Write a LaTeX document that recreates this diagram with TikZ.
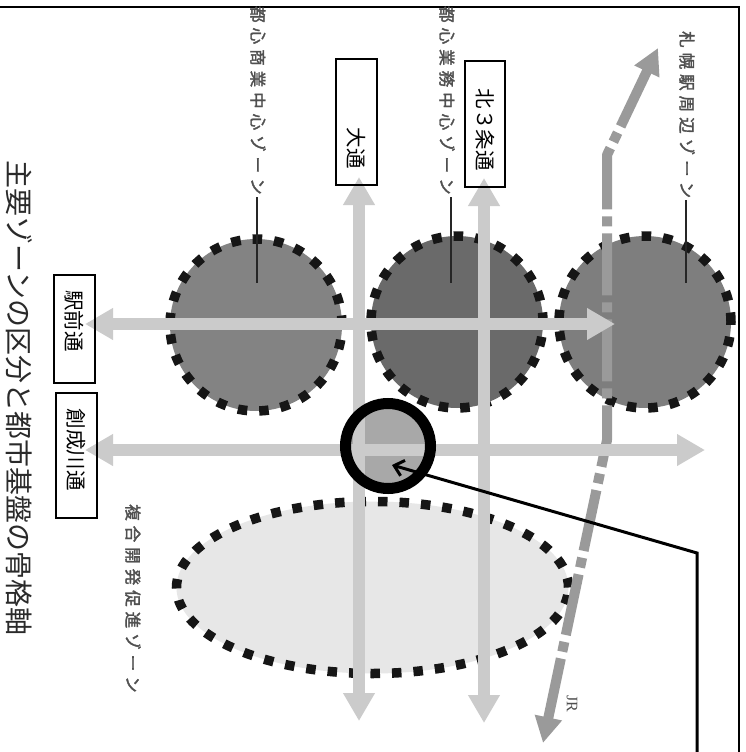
\documentclass[tikz,border=0pt]{standalone}
\usepackage{fontspec}
\setmainfont{Noto Sans CJK JP}
\newfontfamily\jrfont{Liberation Serif}
\newfontfamily\zonefont{Noto Sans CJK JP}[FakeBold=2]
\usetikzlibrary{arrows.meta,shapes.geometric}
\definecolor{roadc}{HTML}{CBCBCB}
\definecolor{jrc}{HTML}{9A9A9A}
\definecolor{zoneA}{HTML}{838383}
\definecolor{zoneB}{HTML}{6A6A6A}
\definecolor{zoneC}{HTML}{7E7E7E}
\definecolor{zoneD}{HTML}{E7E7E7}
\definecolor{dotc}{HTML}{161616}
\definecolor{hubc}{HTML}{A8A8A8}
\definecolor{labelc}{HTML}{505050}
\definecolor{titlec}{HTML}{2A2A2A}
\newcommand\zs{\hspace{5pt}}
\tikzset{
  zonedots/.style={draw=dotc, line width=9.5pt, dash pattern=on 9.5pt off 12pt},
  zonenode/.style={circle, inner sep=0pt, minimum size=172pt, zonedots},
  road/.style={draw=roadc, line width=12pt,
    {Triangle[width=30pt,length=28pt]}-{Triangle[width=30pt,length=28pt]}},
  jrline/.style={draw=jrc, line width=10pt, line join=round,
    dash pattern=on 62pt off 7pt on 10pt off 7pt,
    {Triangle[width=26pt,length=26pt]}-{Triangle[width=26pt,length=26pt]}},
  callout/.style={draw=black, line width=3pt, line join=miter,
    {Straight Barb[length=9pt,width=16pt]}-},
  ringnode/.style={circle, draw=black, line width=11pt, minimum size=85pt, inner sep=0pt},
  leader/.style={draw=black!85, line width=1.8pt},
  zonelabel/.style={rotate=-90, anchor=west, inner sep=0pt, text=labelc,
    font=\zonefont\fontsize{16.5pt}{16.5pt}\selectfont},
  roadlabel/.style={rotate=-90, inner sep=0pt,
    font=\fontsize{20.5pt}{20.5pt}\selectfont},
  labelbox/.style={draw=black, line width=1.3pt, inner sep=0pt, minimum width=41pt},
}
\begin{document}
\begin{tikzpicture}[x=1pt,y=-1pt]
\useasboundingbox (0,0) rectangle (746,752);
\clip (0,0) rectangle (746,752);
\fill[white] (0,0) rectangle (746,752);
% frame
\draw[line width=1.8pt] (-10,7) -- (739,7) -- (739,770);
% zones
\node[ellipse, zonedots, fill=zoneD, minimum width=392pt, minimum height=172pt, inner sep=0pt] (fukugo) at (372.5,587.5) {};
\node[zonenode, fill=zoneA] (shogyo) at (256,325) {};
\node[zonenode, fill=zoneB] (gyomu) at (457,322) {};
\node[zonenode, fill=zoneC] (eki) at (645,322) {};
% hub disk
\node[circle, fill=hubc, minimum size=78pt, inner sep=0pt] (hub) at (388,446) {};
% JR
\coordinate (jrS) at (543,743);
\coordinate (jrK) at (607,440);
\coordinate (jrB) at (607,155);
\coordinate (jrN) at (658,48);
\draw[jrline] (jrS) -- (jrK) -- (jrB) -- (jrN);
% roads
\coordinate (odoriN) at (359,177);
\coordinate (odoriS) at (359,721);
\coordinate (kita3N) at (484,178);
\coordinate (kita3S) at (484,723);
\coordinate (ekimaeW) at (85,324);
\coordinate (ekimaeE) at (615,324);
\coordinate (soseiW) at (85,450);
\coordinate (soseiE) at (705,450);
\draw[road] (odoriS) -- (odoriN);
\draw[road] (kita3S) -- (kita3N);
\draw[road] (ekimaeW) -- (ekimaeE);
\draw[road] (soseiW) -- (soseiE);
% ring and callout
\node[ringnode] (ring) at (388,446) {};
\coordinate (coA) at (392,465);
\coordinate (coB) at (697,553);
\coordinate (coC) at (697,770);
\draw[callout] (coA) -- (coB) -- (coC);
% leaders
\coordinate (ld1a) at (257,197); \coordinate (ld1b) at (257,283);
\coordinate (ld2a) at (451,197); \coordinate (ld2b) at (451,283);
\coordinate (ld3a) at (686,200); \coordinate (ld3b) at (686,283);
\draw[leader] (ld1a) -- (ld1b);
\draw[leader] (ld2a) -- (ld2b);
\draw[leader] (ld3a) -- (ld3b);
% zone labels
\node[zonelabel] (lshogyo) at (258,6) {都\zs 心\zs 商\zs 業\zs 中\zs 心\zs ゾ\zs ー\zs ン};
\node[zonelabel] (lgyomu) at (447,6) {都\zs 心\zs 業\zs 務\zs 中\zs 心\zs ゾ\zs ー\zs ン};
\node[zonelabel] (leki) at (687,31) {札\zs 幌\zs 駅\zs 周\zs 辺\zs ゾ\zs ー\zs ン};
\node[zonelabel] (lfukugo) at (133,504) {複\zs 合\zs 開\zs 発\zs 促\zs 進\zs ゾ\zs ー\zs ン};
\node[rotate=-90, inner sep=0pt, text=labelc, font=\jrfont\fontsize{16pt}{16pt}\selectfont] (jr) at (572,704) {JR};
% road label boxes
\node[labelbox, minimum height=126pt] (bodori) at (356.5,122) {};
\node[labelbox, minimum height=126pt, minimum width=40pt] (bkita3) at (485,124) {};
\node[labelbox, minimum height=108pt] (bekimae) at (74.5,329) {};
\node[labelbox, minimum height=125pt] (bsosei) at (76.5,455.5) {};
\node[roadlabel] (todori) at (356.5,148) {大通};
\node[roadlabel] (tkita3) at (485,129.5) {北３条通};
\node[roadlabel] (tekimae) at (74.5,321) {駅前通};
\node[roadlabel] (tsosei) at (76.5,449.5) {創成川通};
% title
\node[rotate=-90, inner sep=0pt, text=titlec, font=\fontsize{28pt}{28pt}\selectfont] (title) at (19,398) {主要ゾーンの区分と都市基盤の骨格軸};
\end{tikzpicture}
\end{document}
